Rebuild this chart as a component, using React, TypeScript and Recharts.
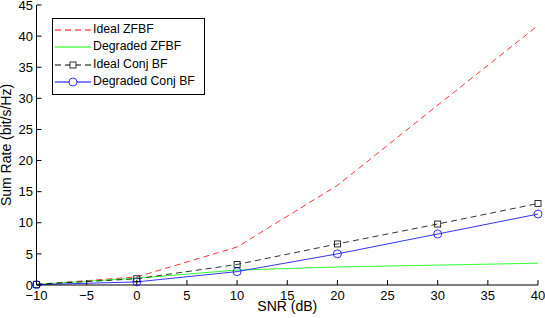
import {
  LineChart,
  Line,
  XAxis,
  YAxis,
  Legend,
} from "recharts";

const snr = [-10, 0, 10, 20, 30, 40];
const idealZfbf = [0.1, 1.3, 6.1, 16.0, 28.9, 41.7];
const degradedZfbf = [0.1, 1.1, 2.4, 2.9, 3.2, 3.5];
const idealConjBf = [0.1, 1.0, 3.3, 6.6, 9.8, 13.1];
const degradedConjBf = [0.05, 0.5, 2.15, 5.0, 8.2, 11.4];

const xTicks = [-10, -5, 0, 5, 10, 15, 20, 25, 30, 35, 40];
const yTicks = [0, 5, 10, 15, 20, 25, 30, 35, 40, 45];

const data = snr.map((s, i) => ({
  snr: s,
  idealZfbf: idealZfbf[i],
  degradedZfbf: degradedZfbf[i],
  idealConjBf: idealConjBf[i],
  degradedConjBf: degradedConjBf[i],
}));

const FONT = "'Liberation Sans', Arial, Helvetica, sans-serif";

const series = [
  { key: "idealZfbf", name: "Ideal ZFBF", color: "#ff0000", dash: "6 4", marker: "none" },
  { key: "degradedZfbf", name: "Degraded ZFBF", color: "#00ff00", dash: undefined, marker: "none" },
  { key: "idealConjBf", name: "Ideal Conj BF", color: "#000000", dash: "6 4", marker: "square" },
  { key: "degradedConjBf", name: "Degraded Conj BF", color: "#0000ff", dash: undefined, marker: "circle" },
];

function BottomTick({ x, y, payload }: any) {
  return (
    <g>
      <line x1={x} y1={y} x2={x} y2={y - 5} stroke="#000" strokeWidth={1} />
      <text x={x} y={y + 14.5} textAnchor="middle" fontSize={13} fontFamily={FONT} fill="#000">
        {String(payload.value).replace("-", "\u2212")}
      </text>
    </g>
  );
}

function LeftTick({ x, y, payload }: any) {
  return (
    <g>
      <line x1={x} y1={y} x2={x + 5} y2={y} stroke="#000" strokeWidth={1} />
      <text x={x - 3.5} y={y + 4.7} textAnchor="end" fontSize={13} fontFamily={FONT} fill="#000">
        {payload.value}
      </text>
    </g>
  );
}

function TopTick({ x, y }: any) {
  return <line x1={x} y1={y} x2={x} y2={y + 5} stroke="#000" strokeWidth={1} />;
}

function RightTick({ x, y }: any) {
  return <line x1={x} y1={y} x2={x - 5} y2={y} stroke="#000" strokeWidth={1} />;
}

function XLabel({ viewBox }: any) {
  const cx = viewBox.x + viewBox.width / 2;
  return (
    <text x={cx} y={311} textAnchor="middle" fontSize={14} fontFamily={FONT} fill="#000">
      SNR (dB)
    </text>
  );
}

function YLabel({ viewBox }: any) {
  const cy = viewBox.y + viewBox.height / 2;
  return (
    <text x={11} y={cy} transform={`rotate(-90 11 ${cy})`} textAnchor="middle" fontSize={14} fontFamily={FONT} fill="#000">
      Sum Rate (bit/s/Hz)
    </text>
  );
}

function SquareDot({ cx, cy }: any) {
  if (cx == null || cy == null) return null;
  return <rect x={cx - 3} y={cy - 3} width={6} height={6} fill="none" stroke="#000" strokeWidth={0.8} />;
}

function CircleDot({ cx, cy }: any) {
  if (cx == null || cy == null) return null;
  return <circle cx={cx} cy={cy} r={4} fill="none" stroke="#0000ff" strokeWidth={0.8} />;
}

function LegendBox() {
  return (
    <div
      style={{
        border: "1px solid #000",
        background: "#fff",
        padding: "2px 9px 3px 2px",
        fontFamily: FONT,
        fontSize: 12.3,
        lineHeight: "17.4px",
      }}
    >
      {series.map((s) => (
        <div key={s.key} style={{ display: "flex", alignItems: "center", whiteSpace: "nowrap" }}>
          <svg width={36} height={12} style={{ marginRight: 2 }}>
            <line x1={0} y1={6} x2={36} y2={6} stroke={s.color} strokeWidth={1} strokeDasharray={s.dash} />
            {s.marker === "square" && <rect x={15} y={3} width={6} height={6} fill="#fff" stroke="#000" strokeWidth={0.8} />}
            {s.marker === "circle" && <circle cx={18} cy={6} r={4} fill="#fff" stroke="#0000ff" strokeWidth={0.8} />}
          </svg>
          <span>{s.name}</span>
        </div>
      ))}
    </div>
  );
}

export default function App() {
  return (
    <div style={{ position: "absolute", left: 0, top: 0, width: 545, height: 318, background: "#fff" }}>
      <LineChart
        width={545}
        height={318}
        data={data}
        margin={{ top: 5, right: 7, bottom: 0, left: 0 }}
      >
        <XAxis
          dataKey="snr"
          type="number"
          domain={[-10, 40]}
          ticks={xTicks}
          tickSize={0}
          tickMargin={0}
          tickLine={false}
          tick={<BottomTick />}
          height={33}
          axisLine={{ stroke: "#000" }}
          label={<XLabel />}
          interval={0}
        />
        <XAxis
          xAxisId="top"
          orientation="top"
          dataKey="snr"
          type="number"
          domain={[-10, 40]}
          ticks={xTicks}
          tickSize={0}
          tickMargin={0}
          tickLine={false}
          tick={<TopTick />}
          height={0}
          axisLine={{ stroke: "#000" }}
          interval={0}
        />
        <YAxis
          type="number"
          domain={[0, 45]}
          ticks={yTicks}
          tickSize={0}
          tickMargin={0}
          tickLine={false}
          tick={<LeftTick />}
          width={36.5}
          axisLine={{ stroke: "#000" }}
          interval={0}
          label={<YLabel />}
        />
        <YAxis
          yAxisId="right"
          orientation="right"
          type="number"
          domain={[0, 45]}
          ticks={yTicks}
          tickSize={0}
          tickMargin={0}
          tickLine={false}
          tick={<RightTick />}
          width={0}
          axisLine={{ stroke: "#000" }}
          interval={0}
        />
        <Legend
          layout="vertical"
          align="center"
          verticalAlign="middle"
          content={<LegendBox />}
          wrapperStyle={{ left: 52, top: 18, width: "auto", height: "auto" }}
        />
        <Line
          dataKey="idealZfbf"
          stroke="#ff0000"
          strokeWidth={0.8}
          strokeDasharray="6 4"
          dot={false}
          activeDot={false}
          isAnimationActive={false}
        />
        <Line
          dataKey="degradedZfbf"
          stroke="#00ff00"
          strokeWidth={0.8}
          dot={false}
          activeDot={false}
          isAnimationActive={false}
        />
        <Line
          dataKey="idealConjBf"
          stroke="#000000"
          strokeWidth={0.8}
          strokeDasharray="6 4"
          dot={<SquareDot />}
          activeDot={false}
          isAnimationActive={false}
        />
        <Line
          dataKey="degradedConjBf"
          stroke="#0000ff"
          strokeWidth={0.8}
          dot={<CircleDot />}
          activeDot={false}
          isAnimationActive={false}
        />
      </LineChart>
    </div>
  );
}
